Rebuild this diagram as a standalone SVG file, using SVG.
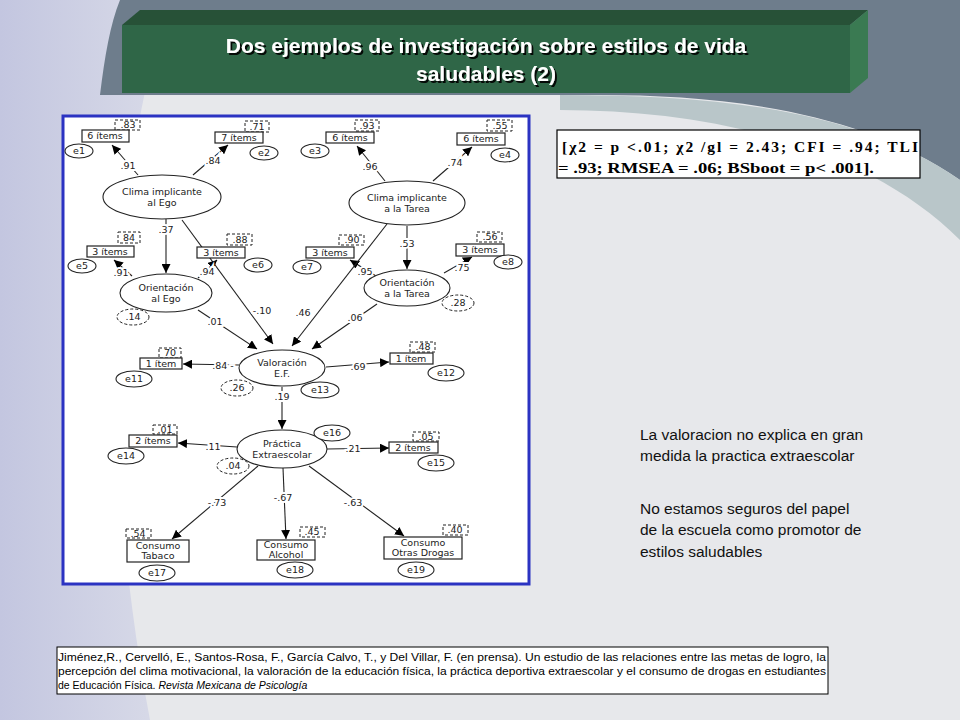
<svg xmlns="http://www.w3.org/2000/svg" width="960" height="720" viewBox="0 0 960 720">
<defs>
<marker id="ah" viewBox="0 0 10 10" refX="10" refY="5" markerWidth="9" markerHeight="9" markerUnits="userSpaceOnUse" orient="auto"><path d="M0,0 L10,5 L0,10 z" fill="#000"/></marker>
<linearGradient id="bg" x1="0" y1="0" x2="1" y2="0"><stop offset="0" stop-color="#c3c6e0"/><stop offset="1" stop-color="#d9dbe8"/></linearGradient>
<filter id="sh" x="-5%" y="-30%" width="110%" height="160%"><feDropShadow dx="2" dy="2" stdDeviation="0.6" flood-color="#000" flood-opacity="0.9"/></filter>
<style>
.t{font-family:"DejaVu Sans",Verdana,sans-serif;font-size:9.5px;fill:#222;text-anchor:middle}
.l{font-family:"DejaVu Sans",Verdana,sans-serif;font-size:9.5px;fill:#222;text-anchor:middle;paint-order:stroke;stroke:#fff;stroke-width:4px}
.b{fill:#fff;stroke:#222;stroke-width:1.2}
.d{fill:#fff;stroke:#222;stroke-width:1;stroke-dasharray:3,2}
.e{fill:#fff;stroke:#222;stroke-width:1.1}
.c line{stroke:#222;stroke-width:1.1}
.a{marker-end:url(#ah)}
.r{font-family:"Liberation Sans",Arial,sans-serif;font-size:15.5px;fill:#111}
</style>
</defs>
<rect width="960" height="720" fill="#e7e8eb"/>
<path d="M0,0 H170 C120,150 90,400 150,720 H0 Z" fill="url(#bg)"/>
<path d="M120,0 H960 V180 C860,110 720,95 600,95 H100 C105,55 110,25 120,0 Z" fill="#6e7d8c"/>
<path d="M560,95 C720,95 860,110 960,180 V240 C870,150 720,110 560,110 Z" fill="#b9c6c9"/>
<g id="title">
<path d="M122,25 L140,10 L868,10 L850,25 Z" fill="#275137"/>
<path d="M850,25 L868,10 L868,78 L850,93 Z" fill="#3a7a52"/>
<rect x="122" y="25" width="728" height="68" fill="#2f6647"/>
<g font-family="Liberation Sans,Arial,sans-serif" font-size="21" font-weight="bold" text-anchor="middle" fill="#fff" filter="url(#sh)">
<text x="486" y="53">Dos ejemplos de investigación sobre estilos de vida</text>
<text x="486" y="81">saludables (2)</text>
</g>
</g>
<rect x="63" y="116" width="466" height="468" fill="#fff" stroke="#2b33c2" stroke-width="3"/>
<g class="c" id="connectors">
<line class="a" x1="138" y1="175" x2="112" y2="145"/>
<line class="a" x1="193" y1="175" x2="228" y2="145"/>
<line class="a" x1="166" y1="219" x2="166" y2="273"/>
<line class="a" x1="182" y1="220" x2="273" y2="344"/>
<line class="a" x1="132" y1="276" x2="114" y2="260"/>
<line class="a" x1="198" y1="278" x2="217" y2="260"/>
<line class="a" x1="198" y1="310" x2="257" y2="349"/>
<line class="a" x1="385" y1="181" x2="357" y2="146"/>
<line class="a" x1="433" y1="181" x2="472" y2="147"/>
<line class="a" x1="407" y1="226" x2="407" y2="269"/>
<line class="a" x1="376" y1="276" x2="350" y2="260"/>
<line class="a" x1="444" y1="273" x2="472" y2="257"/>
<line class="a" x1="387" y1="224" x2="292" y2="346"/>
<line class="a" x1="377" y1="304" x2="312" y2="349"/>
<line class="a" x1="239" y1="365" x2="183" y2="364"/>
<line class="a" x1="326" y1="367" x2="389" y2="362"/>
<line class="a" x1="282" y1="387" x2="282" y2="429"/>
<line class="a" x1="237" y1="447" x2="178" y2="443"/>
<line class="a" x1="327" y1="449" x2="389" y2="448"/>
<line class="a" x1="258" y1="466" x2="172" y2="539"/>
<line class="a" x1="283" y1="468" x2="286" y2="539"/>
<line class="a" x1="309" y1="466" x2="404" y2="536"/>
</g>
<g id="labels">
<text class="l" x="128" y="169">.91</text>
<text class="l" x="213" y="164">.84</text>
<text class="l" x="166" y="233">.37</text>
<text class="l" x="262" y="314">-.10</text>
<text class="l" x="121" y="276">.91</text>
<text class="l" x="207" y="275">.94</text>
<text class="l" x="215" y="325">.01</text>
<text class="l" x="370" y="170">.96</text>
<text class="l" x="455" y="166">.74</text>
<text class="l" x="407" y="247">.53</text>
<text class="l" x="365" y="275">.95</text>
<text class="l" x="462" y="271">.75</text>
<text class="l" x="303" y="316">.46</text>
<text class="l" x="355" y="321">.06</text>
<text class="l" x="223" y="369">.84 -</text>
<text class="l" x="358" y="370">.69</text>
<text class="l" x="282" y="400">.19</text>
<text class="l" x="213" y="450">.11</text>
<text class="l" x="353" y="452">.21</text>
<text class="l" x="217" y="506">-.73</text>
<text class="l" x="283" y="501">-.67</text>
<text class="l" x="353" y="506">-.63</text>
</g>
<g id="n-climaego"><ellipse class="e" cx="162" cy="197" rx="59" ry="22"/><text class="t" x="162" y="195">Clima implicante</text><text class="t" x="162" y="206">al Ego</text></g>
<g id="n-climatarea"><ellipse class="e" cx="407" cy="203" rx="58" ry="22"/><text class="t" x="407" y="201">Clima implicante</text><text class="t" x="407" y="212">a la Tarea</text></g>
<g id="n-orego"><ellipse class="e" cx="166" cy="293" rx="46" ry="19"/><text class="t" x="166" y="291">Orientación</text><text class="t" x="166" y="302">al Ego</text></g>
<g id="n-ortarea"><ellipse class="e" cx="407" cy="288" rx="43" ry="18"/><text class="t" x="407" y="286">Orientación</text><text class="t" x="407" y="297">a la Tarea</text></g>
<g id="n-valor"><ellipse class="e" cx="282" cy="368" rx="43" ry="18"/><text class="t" x="282" y="366">Valoración</text><text class="t" x="282" y="377">E.F.</text></g>
<g id="n-practica"><ellipse class="e" cx="282" cy="449" rx="45" ry="19"/><text class="t" x="282" y="447">Práctica</text><text class="t" x="282" y="458">Extraescolar</text></g>
<g id="boxes">
<rect class="d" x="115" y="120" width="25" height="10"/><text class="t" x="128" y="128">.83</text>
<rect class="b" x="82" y="130" width="47" height="12"/><text class="t" x="105" y="139">6 ítems</text>
<rect class="d" x="245" y="121" width="24" height="11"/><text class="t" x="257" y="130">.71</text>
<rect class="b" x="215" y="132" width="48" height="11"/><text class="t" x="239" y="141">7 ítems</text>
<rect class="d" x="355" y="120" width="24" height="11"/><text class="t" x="367" y="129">.93</text>
<rect class="b" x="326" y="132" width="48" height="11"/><text class="t" x="350" y="141">6 ítems</text>
<rect class="d" x="487" y="120" width="25" height="11"/><text class="t" x="500" y="129">.55</text>
<rect class="b" x="457" y="133" width="48" height="12"/><text class="t" x="481" y="142">6 ítems</text>
<rect class="d" x="118" y="232" width="22" height="11"/><text class="t" x="129" y="241">84</text>
<rect class="b" x="87" y="246" width="47" height="11"/><text class="t" x="110" y="255">3 ítems</text>
<rect class="d" x="227" y="234" width="25" height="11"/><text class="t" x="240" y="243">.88</text>
<rect class="b" x="197" y="247" width="48" height="11"/><text class="t" x="221" y="256">3 ítems</text>
<rect class="d" x="339" y="235" width="25" height="10"/><text class="t" x="352" y="243">.90</text>
<rect class="b" x="306" y="247" width="48" height="11"/><text class="t" x="330" y="256">3 ítems</text>
<rect class="d" x="477" y="232" width="25" height="10"/><text class="t" x="490" y="240">.56</text>
<rect class="b" x="456" y="244" width="48" height="12"/><text class="t" x="480" y="253">3 ítems</text>
<rect class="d" x="159" y="348" width="22" height="10"/><text class="t" x="170" y="356">70</text>
<rect class="b" x="140" y="358" width="42" height="11"/><text class="t" x="161" y="367">1 ítem</text>
<rect class="d" x="410" y="342" width="25" height="10"/><text class="t" x="423" y="350">.48</text>
<rect class="b" x="390" y="353" width="43" height="11"/><text class="t" x="411" y="362">1 ítem</text>
<rect class="d" x="153" y="425" width="24" height="9"/><text class="t" x="165" y="433">.01</text>
<rect class="b" x="129" y="435" width="48" height="12"/><text class="t" x="153" y="444">2 ítems</text>
<rect class="d" x="413" y="432" width="26" height="9"/><text class="t" x="426" y="440">.05</text>
<rect class="b" x="389" y="442" width="49" height="11"/><text class="t" x="413" y="451">2 ítems</text>
<rect class="d" x="126" y="529" width="25" height="9"/><text class="t" x="138" y="537">.54</text>
<rect class="b" x="127" y="540" width="62" height="22"/><text class="t" x="158" y="549">Consumo</text><text class="t" x="158" y="559">Tabaco</text>
<rect class="d" x="300" y="527" width="25" height="10"/><text class="t" x="312" y="535">.45</text>
<rect class="b" x="257" y="540" width="58" height="20"/><text class="t" x="286" y="548">Consumo</text><text class="t" x="286" y="558">Alcohol</text>
<rect class="d" x="443" y="525" width="25" height="10"/><text class="t" x="455" y="533">.40</text>
<rect class="b" x="384" y="537" width="78" height="22"/><text class="t" x="423" y="546">Consumo</text><text class="t" x="423" y="556">Otras Drogas</text>
</g>
<g id="errors">
<ellipse class="e" cx="79" cy="151" rx="14" ry="7"/><text class="t" x="79" y="154">e1</text>
<ellipse class="e" cx="264" cy="153" rx="14" ry="7"/><text class="t" x="264" y="156">e2</text>
<ellipse class="e" cx="315" cy="151" rx="14" ry="7"/><text class="t" x="315" y="154">e3</text>
<ellipse class="e" cx="505" cy="155" rx="14" ry="7"/><text class="t" x="505" y="158">e4</text>
<ellipse class="e" cx="82" cy="266" rx="14" ry="7"/><text class="t" x="82" y="269">e5</text>
<ellipse class="e" cx="258" cy="265" rx="14" ry="7"/><text class="t" x="258" y="268">e6</text>
<ellipse class="e" cx="307" cy="267" rx="14" ry="7"/><text class="t" x="307" y="270">e7</text>
<ellipse class="e" cx="508" cy="262" rx="14" ry="7"/><text class="t" x="508" y="265">e8</text>
<ellipse class="e" cx="134" cy="379" rx="18" ry="8"/><text class="t" x="134" y="382">e11</text>
<ellipse class="e" cx="446" cy="373" rx="18" ry="8"/><text class="t" x="446" y="376">e12</text>
<ellipse class="e" cx="320" cy="390" rx="19" ry="8"/><text class="t" x="320" y="393">e13</text>
<ellipse class="e" cx="126" cy="456" rx="18" ry="8"/><text class="t" x="126" y="459">e14</text>
<ellipse class="e" cx="436" cy="463" rx="18" ry="8"/><text class="t" x="436" y="466">e15</text>
<ellipse class="e" cx="332" cy="433" rx="18" ry="8"/><text class="t" x="332" y="436">e16</text>
<ellipse class="e" cx="157" cy="573" rx="18" ry="8"/><text class="t" x="157" y="576">e17</text>
<ellipse class="e" cx="295" cy="570" rx="18" ry="8"/><text class="t" x="295" y="573">e18</text>
<ellipse class="e" cx="416" cy="570" rx="18" ry="8"/><text class="t" x="416" y="573">e19</text>
<ellipse class="d" cx="133" cy="317" rx="16" ry="8"/><text class="t" x="133" y="320">.14</text>
<ellipse class="d" cx="458" cy="303" rx="16" ry="8"/><text class="t" x="458" y="306">.28</text>
<ellipse class="d" cx="237" cy="388" rx="16" ry="8"/><text class="t" x="237" y="391">.26</text>
<ellipse class="d" cx="233" cy="466" rx="16" ry="8"/><text class="t" x="233" y="469">.04</text>
</g>
<g id="stats">
<rect x="557" y="130" width="363" height="48" fill="#fff" stroke="#000" stroke-width="1.2"/>
<g font-family="Liberation Serif,Times New Roman,serif" font-size="15.5" font-weight="bold" fill="#000">
<text x="562" y="152" textLength="356" lengthAdjust="spacing">[χ2 = p &lt;.01; χ2 /gl = 2.43; CFI = .94; TLI</text>
<text x="558" y="173" textLength="316" lengthAdjust="spacingAndGlyphs">= .93; RMSEA = .06; BSboot = p&lt; .001].</text>
</g>
</g>
<g id="notes">
<text class="r" x="640" y="440">La valoracion no explica en gran</text>
<text class="r" x="640" y="461">medida la practica extraescolar</text>
<text class="r" x="640" y="514">No estamos seguros del papel</text>
<text class="r" x="640" y="535">de la escuela como promotor de</text>
<text class="r" x="640" y="557">estilos saludables</text>
</g>
<g id="citation">
<rect x="57" y="647" width="771" height="47" fill="#fff" stroke="#000" stroke-width="1"/>
<g font-family="Liberation Sans,Arial,sans-serif" font-size="10.5" fill="#000">
<text x="58" y="661" textLength="768" lengthAdjust="spacingAndGlyphs">Jiménez,R., Cervelló, E., Santos-Rosa, F.,  García Calvo, T.,  y Del Villar, F.  (en prensa). Un estudio de las relaciones entre las metas de logro, la</text>
<text x="58" y="675" textLength="768" lengthAdjust="spacingAndGlyphs">percepción del clima motivacional, la valoración de la educación física, la práctica deportiva extraescolar y el consumo de drogas en estudiantes</text>
<text x="58" y="689">de Educación Física. <tspan font-style="italic">Revista Mexicana de Psicología</tspan></text>
</g>
</g>
</svg>
